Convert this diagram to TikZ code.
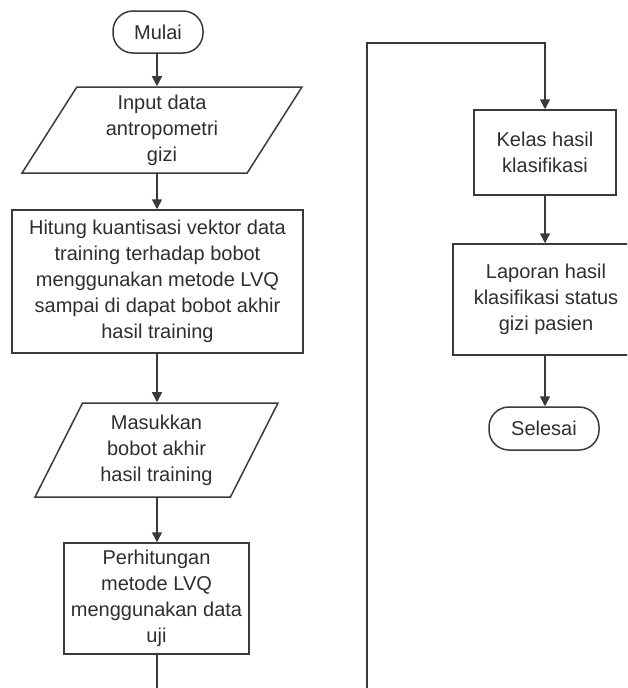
\documentclass[tikz,border=0pt]{standalone}
\usepackage{fontspec}
\setmainfont{Liberation Sans}
\usetikzlibrary{shapes.geometric,arrows.meta}
\definecolor{ln}{HTML}{3A3A3A}
\definecolor{tx}{HTML}{2E2E2E}
\begin{document}
\begin{tikzpicture}[x=1pt,y=-1pt,
  base/.style={draw=ln,line width=1.5pt,text=tx,align=center,inner sep=2pt,
    font=\fontsize{20}{26}\selectfont},
  term/.style={base,rectangle,rounded corners=20pt},
  proc/.style={base,rectangle},
  io/.style={base,trapezium,trapezium left angle=63.4,trapezium right angle=116.6,
    trapezium stretches=true},
  arr/.style={draw=ln,line width=1.5pt,-{Triangle[length=10pt,width=10pt]}},
  ln/.style={draw=ln,line width=1.5pt}]
\useasboundingbox (0,0) rectangle (627,688);
\clip (0,0) rectangle (627,688);
\node[term,minimum width=90pt,minimum height=42pt] (mulai) at (158,32) {Mulai};
\node[io,minimum width=280pt,minimum height=86pt] (input) at (162,130) {Input data\\antropometri\\gizi};
\node[proc,minimum width=291pt,minimum height=143pt] (hitung) at (157.5,281.5)
  {Hitung kuantisasi vektor data\\training terhadap bobot\\menggunakan metode LVQ\\sampai di dapat bobot akhir\\hasil training};
\node[io,minimum width=243pt,minimum height=94pt] (masuk) at (156.5,450) {Masukkan\\bobot akhir\\hasil training};
\node[proc,minimum width=185pt,minimum height=111pt] (perh) at (156.5,598.5) {Perhitungan\\metode LVQ\\menggunakan data\\uji};
\node[proc,minimum width=142pt,minimum height=85pt] (kelas) at (545,152.5) {Kelas hasil\\klasifikasi};
\node[proc,minimum width=186pt,minimum height=111pt] (lap) at (546,299.5) {Laporan hasil\\klasifikasi status\\gizi pasien};
\node[term,minimum width=110pt,minimum height=43pt] (sel) at (544,428.5) {Selesai};
\coordinate (c1) at (157,695);
\coordinate (c2) at (367,695);
\coordinate (c3) at (367,43);
\draw[arr] (157,0 |- mulai.south) -- (157,0 |- input.north);
\draw[arr] (157,0 |- input.south) -- (157,0 |- hitung.north);
\draw[arr] (157,0 |- hitung.south) -- (157,0 |- masuk.north);
\draw[arr] (157,0 |- masuk.south) -- (157,0 |- perh.north);
\draw[ln] (157,0 |- perh.south) -- (c1);
\draw[arr] (c2) -- (c3) -| (kelas.north);
\draw[arr] (kelas.south) -- (kelas.south |- lap.north);
\draw[arr] (kelas.south |- lap.south) -- (kelas.south |- sel.north);
\end{tikzpicture}
\end{document}
